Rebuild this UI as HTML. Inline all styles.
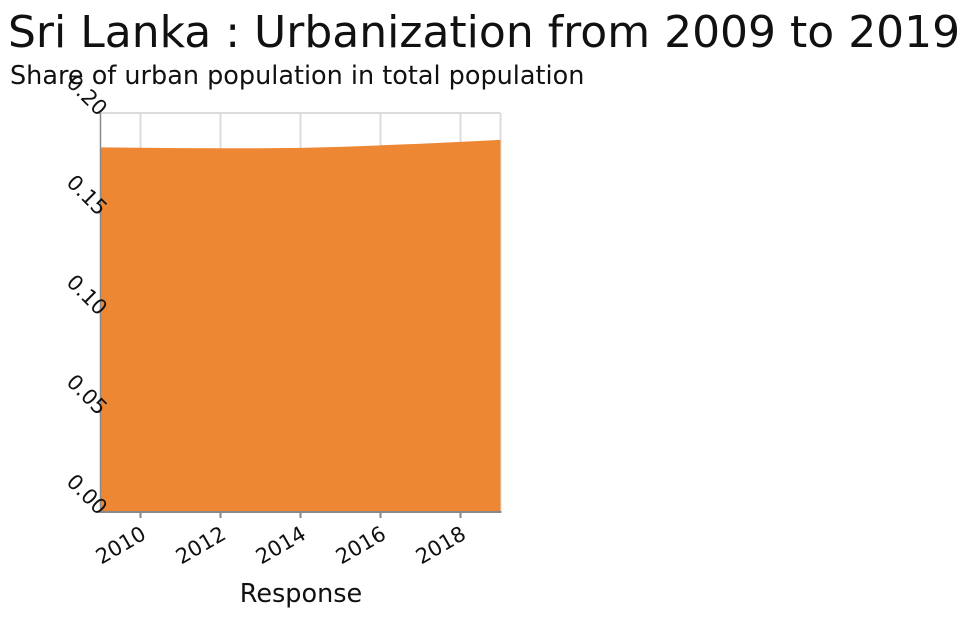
<!DOCTYPE html>
<html><head><meta charset="utf-8"><style>
body{margin:0;background:#fff;width:966px;height:618px;overflow:hidden;font-family:"Liberation Sans","DejaVu Sans",sans-serif}
</style></head><body>
<svg width="966" height="618" xmlns="http://www.w3.org/2000/svg">
<text x="8" y="47" font-size="44" font-family="DejaVu Sans, Liberation Sans, sans-serif" fill="#111">Sri Lanka : Urbanization from 2009 to 2019</text>
<text x="10" y="84" font-size="25.5" font-family="DejaVu Sans, Liberation Sans, sans-serif" fill="#111">Share of urban population in total population</text>
<g id="grid"></g><g id="area"></g><g id="axes"></g>
<text x="301" y="602" text-anchor="middle" font-size="25.5" font-family="DejaVu Sans, Liberation Sans, sans-serif" fill="#111">Response</text>
</svg>
<script>
const years=[2009,2010,2011,2012,2013,2014,2015,2016,2017,2018,2019];
const values=[0.1828,0.1826,0.1824,0.1823,0.1823,0.1825,0.1830,0.1838,0.1846,0.1855,0.1865];
const xTicks=[2010,2012,2014,2016,2018];
const yTicks=[0,0.05,0.10,0.15,0.20];
const yTickLabels=["0.00","0.05","0.10","0.15","0.20"];
const NS="http://www.w3.org/2000/svg";
const X0=100.5,X1=500.5,Y0=512,Y1=113;
const x=v=>X0+(v-2009)/(2019-2009)*(X1-X0);
const y=v=>Y0-v/0.2*(Y0-Y1);
function mk(t,a,p){const e=document.createElementNS(NS,t);for(const k in a)e.setAttribute(k,a[k]);p.appendChild(e);return e;}
const grid=document.getElementById('grid'),area=document.getElementById('area'),axes=document.getElementById('axes');
xTicks.forEach(t=>{const l=mk('line',{x1:x(t),x2:x(t),y1:Y1,y2:Y0,stroke:'#dcdcdc','stroke-width':2},grid);

});
yTicks.forEach(t=>{const l=mk('line',{x1:X0,x2:X1,y1:y(t),y2:y(t),stroke:'#dcdcdc','stroke-width':2},grid);

});
const rl=mk('line',{x1:X1,x2:X1,y1:Y1,y2:Y0,stroke:'#dcdcdc','stroke-width':2},grid);


let d='M'+x(years[0])+','+Y0;
years.forEach((yr,i)=>{d+=' L'+x(yr)+','+y(values[i]);});
d+=' L'+x(years[years.length-1])+','+Y0+' Z';
const p=mk('path',{d:d,fill:'#ed8733'},area);


const ya=mk('line',{x1:X0,x2:X0,y1:Y1,y2:Y0,stroke:'#888','stroke-width':1.5},axes);


const xa=mk('line',{x1:X0-1,x2:X1+1,y1:Y0,y2:Y0,stroke:'#888','stroke-width':2},axes);


xTicks.forEach(t=>{const tk=mk('line',{x1:x(t),x2:x(t),y1:Y0,y2:Y0+6,stroke:'#888','stroke-width':2},axes);


const tx=mk('text',{x:x(t)+7,y:Y0+26,'text-anchor':'end','font-size':21,'font-family':'DejaVu Sans, Liberation Sans, sans-serif',fill:'#111',transform:'rotate(-30 '+(x(t)+7)+' '+(Y0+26)+')'},axes);
tx.textContent=t;

});
yTicks.forEach((t,i)=>{const tk=mk('line',{x1:X0-4,x2:X0,y1:y(t),y2:y(t),stroke:'#888','stroke-width':1.5},axes);


const tx=mk('text',{x:X0-2,y:y(t)+4,'text-anchor':'end','font-size':21,'font-family':'DejaVu Sans, Liberation Sans, sans-serif',fill:'#111',transform:'rotate(45 '+(X0-2)+' '+(y(t)+4)+')'},axes);
tx.textContent=yTickLabels[i];

});
</script>
</body></html>
